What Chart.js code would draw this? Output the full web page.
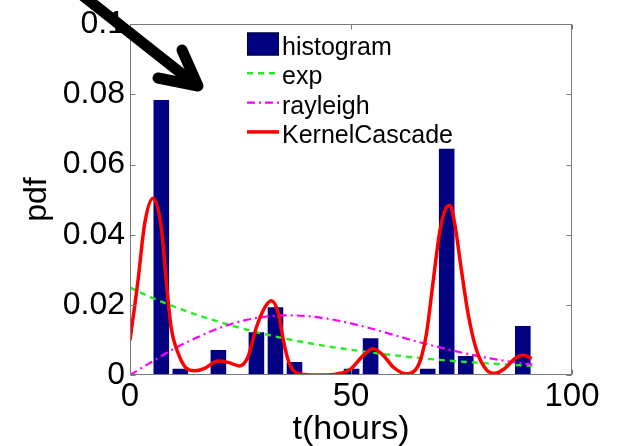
<!DOCTYPE html>
<html lang="en">
<head>
  <meta charset="UTF-8" />
  <title>Inter-event time pdf</title>
  <script src="https://cdn.jsdelivr.net/npm/chart.js"></script>
  <style>
    html, body { margin: 0; padding: 0; background: #fff; }
    #wrap { width: 618px; height: 446px; position: relative; }
  </style>
</head>
<body>
  <div id="wrap"><canvas id="pdfChart"></canvas></div>

  <script>
    // 20-bin histogram of the inter-event times (bin centres in hours, normalised counts)
    const binCenters = [7.08, 11.39, 15.69, 20.0, 24.3, 28.6, 32.91, 37.21, 41.52, 45.82,
                        50.13, 54.43, 58.74, 63.04, 67.35, 71.65, 75.96, 80.26, 84.57, 88.87];
    const histPdf = [0.0784, 0.0018, 0, 0.0071, 0, 0.0122, 0.0193, 0.0037, 0, 0,
                     0.0018, 0.0105, 0, 0, 0.0018, 0.0645, 0.0054, 0, 0, 0.014];

    // parametric fits, sampled along t
    const fitT = [0, 5, 10, 15, 20, 25, 30, 35, 40, 45, 50, 55, 60, 65, 70, 75, 80, 85, 91];
    const expPdf = [0.0249, 0.022, 0.0195, 0.0172, 0.0152, 0.0134, 0.0118, 0.0104, 0.0092, 0.0081,
                    0.0072, 0.0063, 0.0056, 0.0049, 0.0043, 0.0038, 0.0034, 0.003, 0.0026];
    const rayleighPdf = [0, 0.0038, 0.0075, 0.0106, 0.0133, 0.0153, 0.0165, 0.017, 0.0168, 0.016,
                         0.0147, 0.0131, 0.0113, 0.0095, 0.0079, 0.0064, 0.0051, 0.004, 0.003];

    // kernel cascade estimate
    const kernelT = [0, 1.8, 3.3, 5.2, 7.1, 8.2, 9.3, 10.9, 12.7, 14.6, 16.9, 19.9, 22.2, 24.8,
                     26.7, 28.6, 30.5, 32.0, 33.6, 34.7, 35.8, 37.3, 40, 43.7, 46.8, 49.8, 52.8,
                     55.0, 57.3, 59.6, 62.6, 64.9, 66.0, 67.1, 68.6, 70.1, 71.7, 72.4, 73.5, 75.0,
                     76.5, 78.4, 80.7, 82.6, 84.8, 87.1, 89.0, 90.9];
    const kernelPdf = [0.0099, 0.0268, 0.043, 0.0504, 0.0419, 0.0268, 0.0136, 0.0062, 0.002, 0.0012,
                       0.0019, 0.004, 0.0036, 0.0026, 0.0052, 0.0136, 0.0193, 0.0212, 0.0174, 0.0099,
                       0.0042, 0.0009, 0.0001, 0, 0.0003, 0.0016, 0.0056, 0.0075, 0.0056, 0.0022,
                       0.0003, 0.002, 0.0055, 0.012, 0.0268, 0.041, 0.048, 0.0483, 0.0429, 0.0297,
                       0.0174, 0.0071, 0.0014, 0.0005, 0.0019, 0.0047, 0.0056, 0.0047];

    const xTicks = [0, 50, 100];
    const yTicks = [0, 0.02, 0.04, 0.06, 0.08, 0.1];
    const yTickLabels = ["0", "0.02", "0.04", "0.06", "0.08", "0.1"];

    const FONT = "'Liberation Sans', Arial, Helvetica, sans-serif";
    const toPoints = (xs, ys) => xs.map((x, i) => ({ x: x, y: ys[i] }));

    // box around the axes with MATLAB-style inward ticks on all four sides
    const framePlugin = {
      id: "frame",
      afterDatasetsDraw(chart) {
        const { ctx, chartArea: a, scales } = chart;
        const L = Math.round(a.left) + 0.5, R = Math.round(a.right) - 0.5;
        const T = Math.round(a.top) + 0.5, B = Math.round(a.bottom) - 0.5;
        const tl = 5;
        ctx.save();
        ctx.strokeStyle = "#7a7a7a";
        ctx.lineWidth = 1;
        ctx.strokeRect(L, T, R - L, B - T);
        ctx.beginPath();
        xTicks.forEach((v) => {
          const px = Math.round(scales.x.getPixelForValue(v)) + 0.5;
          ctx.moveTo(px, B); ctx.lineTo(px, B - tl);
          ctx.moveTo(px, T); ctx.lineTo(px, T + tl);
        });
        yTicks.forEach((v) => {
          const py = Math.round(scales.y.getPixelForValue(v)) + 0.5;
          ctx.moveTo(L, py); ctx.lineTo(L + tl, py);
          ctx.moveTo(R, py); ctx.lineTo(R - tl, py);
        });
        ctx.stroke();
        ctx.restore();
      },
    };

    // legend sitting inside the axes, no frame
    const insideLegend = {
      id: "insideLegend",
      afterDatasetsDraw(chart) {
        const { ctx } = chart;
        const x0 = 247, x1 = 279, textX = 282, firstBase = 55, step = 29.3;
        ctx.save();
        ctx.font = "25px " + FONT;
        ctx.textBaseline = "alphabetic";
        ctx.textAlign = "left";
        chart.data.datasets.forEach((ds, i) => {
          const base = firstBase + i * step;
          const mid = base - 11;
          if (ds.type === "bar") {
            ctx.fillStyle = ds.backgroundColor;
            ctx.fillRect(x0, mid - 11.5, x1 - x0, 23);
            ctx.strokeStyle = "#000030";
            ctx.lineWidth = 1;
            ctx.strokeRect(x0 + 0.5, mid - 11, x1 - x0 - 1, 22);
          } else {
            ctx.strokeStyle = ds.borderColor;
            ctx.lineWidth = ds.borderWidth;
            ctx.setLineDash(ds.borderDash || []);
            ctx.beginPath();
            ctx.moveTo(x0, mid);
            ctx.lineTo(x1, mid);
            ctx.stroke();
            ctx.setLineDash([]);
          }
          ctx.fillStyle = "#000";
          ctx.fillText(ds.label, textX, base);
        });
        ctx.restore();
      },
    };

    // heavy black pointer arrow in the upper left corner
    const arrowPlugin = {
      id: "arrow",
      afterDraw(chart) {
        const { ctx } = chart;
        ctx.save();
        ctx.strokeStyle = "#000";
        ctx.lineWidth = 11;
        ctx.lineCap = "round";
        ctx.lineJoin = "round";
        ctx.beginPath();
        ctx.moveTo(63, -20);
        ctx.lineTo(196, 85);
        ctx.stroke();
        ctx.beginPath();
        ctx.moveTo(158, 78);
        ctx.lineTo(198, 86);
        ctx.lineTo(182, 50);
        ctx.stroke();
        ctx.restore();
      },
    };

    const ctx = document.getElementById("pdfChart").getContext("2d");
    new Chart(ctx, {
      type: "bar",
      data: {
        datasets: [
          {
            type: "bar",
            label: "histogram",
            data: toPoints(binCenters, histPdf),
            backgroundColor: "#000080",
            borderWidth: 0,
            barPercentage: 0.82,
            categoryPercentage: 1,
            order: 4,
          },
          {
            type: "line",
            label: "exp",
            data: toPoints(fitT, expPdf),
            borderColor: "#22ee22",
            borderWidth: 2.4,
            borderDash: [6, 5],
            pointRadius: 0,
            cubicInterpolationMode: "monotone",
            order: 3,
          },
          {
            type: "line",
            label: "rayleigh",
            data: toPoints(fitT, rayleighPdf),
            borderColor: "#ff00ff",
            borderWidth: 2.2,
            borderDash: [8, 4, 2, 4],
            pointRadius: 0,
            cubicInterpolationMode: "monotone",
            order: 2,
          },
          {
            type: "line",
            label: "KernelCascade",
            data: toPoints(kernelT, kernelPdf),
            borderColor: "#ff0000",
            borderWidth: 3.5,
            pointRadius: 0,
            cubicInterpolationMode: "monotone",
            order: 1,
          },
        ],
      },
      options: {
        responsive: true,
        maintainAspectRatio: false,
        animation: false,
        devicePixelRatio: 1,
        layout: { padding: { left: 0, right: 46, top: 21, bottom: 0 } },
        plugins: {
          legend: { display: false },
          tooltip: { enabled: false },
        },
        scales: {
          x: {
            type: "linear",
            min: 0,
            max: 100,
            offset: false,
            afterBuildTicks: (s) => { s.ticks = xTicks.map((v) => ({ value: v })); },
            afterFit: (s) => { s.height = 71; },
            grid: { display: false, drawTicks: false },
            border: { display: false },
            ticks: {
              color: "#000",
              padding: 2,
              maxRotation: 0,
              font: { family: FONT, size: 33 },
            },
            title: {
              display: true,
              text: "t(hours)",
              color: "#000",
              padding: { top: 0, bottom: -4 },
              font: { family: FONT, size: 34 },
            },
          },
          y: {
            min: 0,
            max: 0.1,
            afterBuildTicks: (s) => { s.ticks = yTicks.map((v) => ({ value: v })); },
            afterFit: (s) => { s.width = 130; },
            grid: { display: false, drawTicks: false },
            border: { display: false },
            ticks: {
              color: "#000",
              padding: 5,
              font: { family: FONT, size: 32 },
              callback: (v, i) => yTickLabels[i],
            },
            title: {
              display: true,
              text: "pdf",
              color: "#000",
              padding: { top: 18, bottom: 0 },
              font: { family: FONT, size: 32 },
            },
          },
        },
      },
      plugins: [framePlugin, insideLegend, arrowPlugin],
    });
  </script>
</body>
</html>
